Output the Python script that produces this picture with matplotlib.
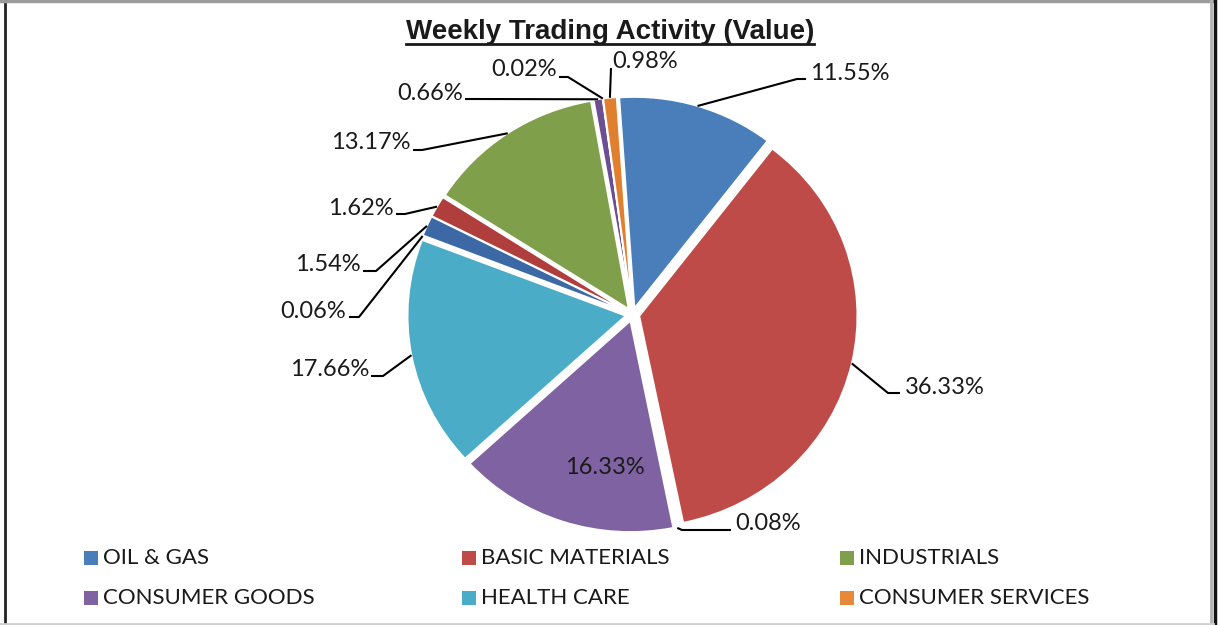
import numpy as np
import matplotlib.pyplot as plt
from matplotlib.patches import Rectangle

# slice values (clockwise from the top), percent of weekly traded value
pcts = [11.55, 36.33, 0.08, 16.33, 17.66, 0.06, 1.54, 1.62, 13.17, 0.66, 0.02, 0.98]
labels = ["%.2f%%" % p for p in pcts]
legend_names = ["OIL & GAS", "BASIC MATERIALS", "INDUSTRIALS",
                "CONSUMER GOODS", "HEALTH CARE", "CONSUMER SERVICES"]
base_cols = ["#4A7EBB", "#BE4B48", "#809F4B", "#7F62A1", "#4AACC6", "#E7893B"]
dark_cols = ["#3C69A6", "#B03E3C", "#809F4B", "#6B4F92", "#3F97B0", "#E07F2E"]
colors = base_cols + dark_cols

W, H = 1232, 625
SY = 211 / 218          # the pie in the picture is a touch wider than tall


def py(y):
    # pixel row -> data y
    return (H - y) / SY


plt.rcParams['font.family'] = ['Lato', 'DejaVu Sans']
txt_col = "#1a1a1a"

fig = plt.figure(figsize=(W / 100, H / 100), dpi=100)
ax = fig.add_axes([0, 0, 1, 1])

# explode is an absolute offset in data units here (~7 px)
wedges, _ = ax.pie(pcts, colors=colors, startangle=94, counterclock=False,
                   radius=218, center=(632.5, py(314.5)),
                   explode=[7] * len(pcts),
                   wedgeprops=dict(edgecolor="white", linewidth=1.2))
ax.set_aspect("auto")
ax.set_xlim(0, W)
ax.set_ylim(0, H / SY)
ax.axis("off")

# label text position (px), alignment, leader start and elbow (px)
lab = [
    (810, 73, "left", (806, 79), (797, 79)),
    (905, 387, "left", (900, 393), (888, 393)),
    (735, 524, "left", (731, 530), (682, 530)),
    (605, 468, "center", None, None),
    (369, 369, "right", (371, 376), (383, 376)),
    (346, 312, "right", (349, 317), (359, 317)),
    (361, 265, "right", (363, 271), (376, 271)),
    (394, 209, "right", (396, 214), (405, 214)),
    (411, 143, "right", (413, 150), (422, 150)),
    (463, 93, "right", (465, 99), (475, 99)),
    (557, 70, "right", (559, 77), (568, 77)),
    (612, 62, "left", (611, 68), (611, 68)),
]

for w, s, (tx, ty, ha, st, el) in zip(wedges, labels, lab):
    ax.text(tx, py(ty), s, ha=ha, va="center", fontsize=17, color=txt_col)
    if st is None:
        continue
    mid = np.deg2rad((w.theta1 + w.theta2) / 2)
    ex = w.center[0] + w.r * np.cos(mid)
    ey = w.center[1] + w.r * np.sin(mid)
    ax.plot([st[0], el[0], ex], [py(st[1]), py(el[1]), ey],
            color="black", lw=1.5, solid_capstyle="butt")

# title with underline
t = ax.text(610, py(32), "Weekly Trading Activity (Value)", ha="center",
            va="center", fontsize=20, fontweight="bold",
            family=["Liberation Sans", "DejaVu Sans"], color=txt_col)
fig.canvas.draw()
bb = t.get_window_extent()
ax.plot([bb.x0, bb.x1], [py(44), py(44)], color=txt_col, lw=2)

# legend (two rows of three)
leg_x = [84, 462, 840]
leg_y = [558, 598]
for i, name in enumerate(legend_names):
    x = leg_x[i % 3]
    y = leg_y[i // 3]
    ax.add_patch(Rectangle((x, py(y + 7)), 14, 14 / SY, facecolor=base_cols[i],
                           edgecolor="none"))
    ax.text(x + 19, py(y), name, ha="left", va="center", fontsize=16,
            color=txt_col)

# chart frame
ax.plot([4.5, 4.5], [py(0), py(H)], color="#222222", lw=2)
ax.plot([0, 1213], [py(1), py(1)], color="#9a9a9a", lw=2.5)
ax.plot([1210.5, 1210.5], [py(0), py(H)], color="#b0b0b0", lw=2)
ax.plot([1214.5, 1214.5], [py(0), py(H)], color="#111111", lw=2.5)
ax.plot([0, 1213], [py(623.5), py(623.5)], color="#cfcfcf", lw=2)

fig.savefig("out.png", dpi=100)
